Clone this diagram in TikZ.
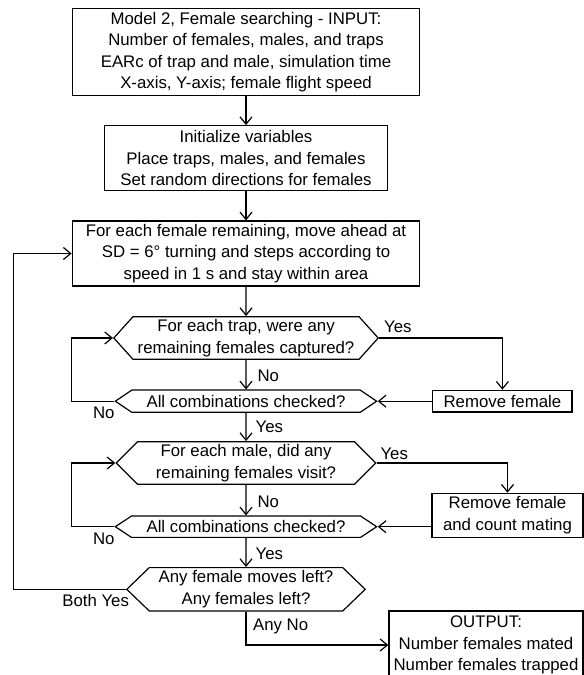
\documentclass[tikz,border=0pt]{standalone}
\usepackage{fontspec}
\setmainfont{Liberation Sans}
\usepackage{tikz}
\usetikzlibrary{arrows.meta}
\usetikzlibrary{shapes.symbols}

\begin{document}
\begin{tikzpicture}[x=0.75pt,y=0.75pt,yscale=-1,xscale=1,
    line width=0.9pt,
    txt/.style={font=\fontsize{12.6}{16}\selectfont},
    box/.style={txt, draw, rectangle, align=center, inner sep=0pt},
    hexa/.style={txt, draw, signal, signal to=west and east, align=center, inner sep=0pt},
    lbl/.style={txt, inner sep=0.75pt},
    arr/.style={-{Straight Barb[length=5.5pt,width=9pt]}}]
    \useasboundingbox (0,0) rectangle (584,675);
    \clip (0,0) rectangle (584,675);

    \draw (246,52) node [box, minimum width=260.6pt, minimum height=65.8pt] (input) {Model 2, Female searching - INPUT:\\Number of females, males, and traps\\EARc of trap and male, simulation time\\X-axis, Y-axis; female flight speed};
    \draw (246,158.2) node [box, minimum width=212.25pt, minimum height=48.75pt] (init) {Initialize variables\\Place traps, males, and females\\Set random directions for females};
    \draw (246,253.5) node [box, minimum width=260.6pt, minimum height=48.75pt] (move) {For each female remaining, move ahead at\\SD = 6° turning and steps according to\\speed in 1 s and stay within area};
    \draw (246,338) node [hexa, minimum width=198.3pt, minimum height=32pt, signal pointer angle=96] (trapq) {For each trap, were any\\remaining females captured?};
    \draw (246,401.2) node [hexa, minimum width=196pt, minimum height=16.7pt, signal pointer angle=68] (trapall) {All combinations checked?};
    \draw (502.4,401.2) node [box, minimum width=104.5pt, minimum height=16.3pt] (rmf) {Remove female};
    \draw (246,463) node [hexa, minimum width=194.7pt, minimum height=32pt, signal pointer angle=90] (maleq) {For each male, did any\\remaining females visit?};
    \draw (507.5,515.3) node [box, minimum width=113.25pt, minimum height=33pt] (rmm) {Remove female\\and count mating};
    \draw (246,526.7) node [hexa, minimum width=196pt, minimum height=16pt, signal pointer angle=67] (maleall) {All combinations checked?};
    \draw (246,589.3) node [hexa, minimum width=178.8pt, minimum height=32.5pt, signal pointer angle=88] (leftq) {Any female moves left?\\Any females left?};
    \draw (486,645) node [box, minimum width=145.5pt, minimum height=51pt] (output) {OUTPUT:\\Number females mated\\Number females trapped};
    \coordinate (back) at (13.8,253.5);

    \draw (382.6,327) node [lbl, anchor=west] (yes1) {Yes};
    \draw (256,375.7) node [lbl, anchor=west] (no1) {No};
    \draw (91.4,412.7) node [lbl, anchor=west] (no2) {No};
    \draw (254,427) node [lbl, anchor=west] (yes2) {Yes};
    \draw (378.9,453.3) node [lbl, anchor=west] (yes3) {Yes};
    \draw (256,501.7) node [lbl, anchor=west] (no3) {No};
    \draw (91.4,538.3) node [lbl, anchor=west] (no4) {No};
    \draw (254,553.3) node [lbl, anchor=west] (yes4) {Yes};
    \draw (60.7,600.7) node [lbl, anchor=west] (bothyes) {Both Yes};
    \draw (251.5,626.7) node [lbl, anchor=west] (anyno) {Any No};

    \draw [arr] (input) -- (init);
    \draw [arr] (init) -- (move);
    \draw [arr] (move) -- (trapq);
    \draw [arr] (trapq) -- (trapall);
    \draw [arr] (trapq.east) -| (rmf.north);
    \draw [arr] (rmf.west) -- (trapall.east);
    \draw [arr] (trapall.west) -- (trapall.west -| move.west) |- (trapq.west);
    \draw [arr] (trapall) -- (maleq);
    \draw [arr] (maleq) -- (maleall);
    \draw [arr] (maleq.east) -| (rmm.north);
    \draw [arr] (rmm.west |- maleall.east) -- (maleall.east);
    \draw [arr] (maleall.west) -- (maleall.west -| move.west) |- (maleq.west);
    \draw [arr] (maleall) -- (leftq);
    \draw [arr] (leftq.west) -| (back) -- (move.west);
    \draw [arr] (leftq.south) |- (output.west);
\end{tikzpicture}
\end{document}
